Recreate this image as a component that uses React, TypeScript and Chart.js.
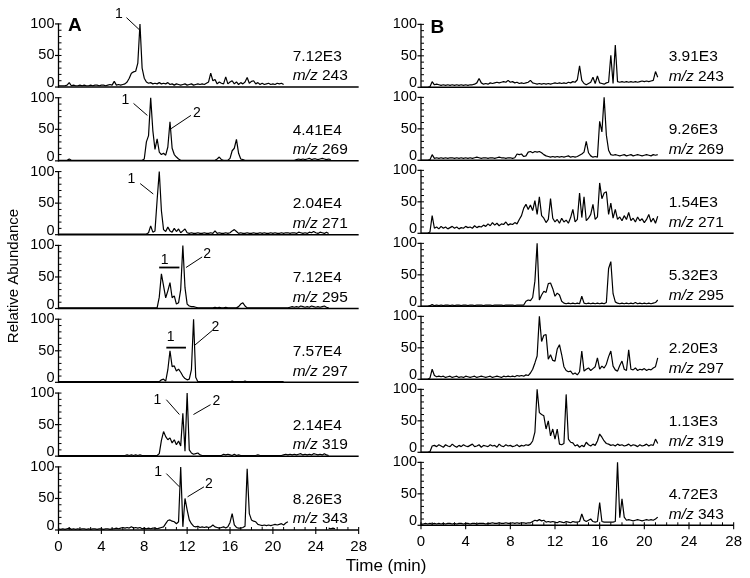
import React, { useEffect, useRef } from "react";
import { Chart, registerables } from "chart.js";

Chart.register(...registerables);

const FONT = '"Liberation Sans", Arial, Helvetica, sans-serif';
const INK = "#000";

// chromatogram sampling interval (min)
const TIME_STEP = 0.2;

const X_MIN = 0;
const X_MAX = 28;
const X_TICK_STEP = 4;
const X_MINOR_STEP = 1;
const Y_TICKS = [0, 50, 100];
const Y_MINOR_STEP = 10;

const MZ = ["243", "269", "271", "295", "297", "319", "343"];
const INTENSITY_A = ["7.12E3", "4.41E4", "2.04E4", "7.12E4", "7.57E4", "2.14E4", "8.26E3"];
const INTENSITY_B = ["3.91E3", "9.26E3", "1.54E3", "5.32E3", "2.20E3", "1.13E3", "4.72E3"];

// ---------- Panel A (relative abundance, one value every 0.2 min) ----------
const A243 = [
  2, 2, 2, 2, 3, 7, 2, 3, 2, 2,
  3, 2, 3, 2, 2, 3, 2, 3, 3, 2,
  3, 3, 2, 3, 4, 3, 9, 3, 4, 3,
  4, 5, 8, 14, 22, 24, 25, 38, 100, 30,
  14, 8, 6, 7, 5, 6, 5, 7, 5, 6,
  5, 7, 4, 5, 3, 5, 4, 3, 4, 5,
  3, 4, 5, 3, 4, 5, 4, 5, 4, 6,
  8, 22, 10, 12, 5, 8, 6, 5, 16, 5,
  8, 10, 5, 8, 4, 7, 5, 8, 15, 6,
  9, 10, 5, 7, 4, 6, 4, 5, 6, 4,
  5, 4, 6, 5, 6, 4,
];
const A269 = [
  1, 1, 1, 1, 1, 3, 1, 1, 1, 1,
  1, 1, 1, 1, 1, 1, 1, 1, 1, 1,
  1, 1, 1, 1, 1, 1, 1, 1, 1, 1,
  1, 1, 1, 1, 1, 1, 1, 1, 1, 1,
  3, 30, 40, 100, 48, 18, 35, 14, 10, 12,
  9, 22, 62, 20, 10, 6, 3, 1, 1, 1,
  1, 1, 1, 1, 1, 1, 1, 1, 1, 1,
  1, 1, 1, 1, 3, 6, 2, 1, 1, 1,
  4, 16, 20, 34, 12, 3, 2, 1, 1, 1,
  1, 1, 1, 1, 1, 1, 1, 1, 1, 1,
  1, 1, 1, 1, 1, 1, 1, 1, 1, 1,
  1, 2, 3, 2, 3, 2, 3, 4, 2, 3,
  3, 2, 3, 4, 3, 2, 3, 2,
];
const A271 = [
  1, 1, 1, 1, 1, 1, 1, 1, 1, 1,
  1, 1, 1, 1, 1, 1, 1, 1, 1, 1,
  1, 1, 1, 1, 1, 1, 1, 1, 1, 1,
  1, 1, 1, 1, 1, 1, 1, 1, 1, 1,
  1, 1, 3, 14, 4, 6, 55, 100, 38, 8,
  5, 12, 6, 4, 10, 5, 9, 3, 6, 9,
  3, 2, 3, 2, 2, 3, 2, 2, 3, 2,
  2, 3, 2, 6, 2, 3, 2, 2, 3, 2,
  3, 6, 8, 5, 2, 3, 2, 2, 3, 2,
  2, 3, 2, 2, 3, 2, 3, 2, 2, 3,
  2, 3, 2, 2, 3, 2, 3, 3, 2, 3,
  3, 2, 4, 3, 2, 3, 2, 4, 3, 5,
  3, 2, 4, 3, 2, 4, 2,
];
const A295 = [
  1, 1, 1, 1, 1, 1, 1, 1, 1, 1,
  1, 1, 1, 1, 1, 1, 1, 1, 1, 1,
  1, 1, 1, 1, 1, 1, 1, 1, 1, 1,
  1, 1, 1, 1, 1, 1, 1, 1, 1, 1,
  1, 1, 1, 1, 1, 1, 1, 18, 55, 36,
  17, 28, 41, 17, 20, 7, 9, 30, 100, 33,
  7, 4, 3, 3, 2, 1, 1, 1, 1, 1,
  1, 1, 1, 2, 1, 2, 1, 1, 2, 1,
  1, 1, 1, 1, 3, 7, 9, 4, 1, 1,
  1, 1, 1, 1, 1, 1, 1, 1, 1, 1,
  1, 1, 1, 1, 1, 1, 1, 1, 2, 3,
  2, 3, 2, 4, 3, 2, 3, 2, 4, 3,
  2, 3, 2, 3, 4, 2, 1,
];
const A297 = [
  1, 1, 1, 1, 1, 1, 1, 1, 1, 1,
  1, 1, 1, 1, 1, 1, 1, 1, 1, 1,
  1, 1, 1, 1, 1, 1, 1, 1, 1, 1,
  1, 1, 1, 1, 1, 1, 1, 1, 1, 1,
  1, 1, 1, 1, 1, 1, 1, 1, 4, 5,
  2, 20, 50, 25, 26, 18, 21, 16, 10, 6,
  4, 5, 20, 100, 8, 1, 1, 1, 1, 1,
  1, 1, 1, 1, 1, 1, 1, 1, 1, 1,
  1, 2, 1, 1, 1, 1, 1, 2, 1, 1,
  1, 1, 1, 1, 1, 1, 1, 1, 1, 1,
  1, 1, 1, 1, 1, 1,
];
const A319 = [
  1, 1, 1, 1, 1, 1, 1, 1, 1, 1,
  1, 1, 1, 1, 1, 1, 1, 1, 1, 1,
  1, 1, 1, 1, 1, 1, 1, 1, 1, 1,
  1, 1, 2, 1, 2, 1, 2, 1, 2, 1,
  1, 1, 1, 1, 1, 1, 1, 4, 25, 39,
  31, 26, 29, 21, 26, 18, 24, 16, 68, 8,
  100, 10, 5, 3, 4, 5, 2, 1, 1, 1,
  1, 1, 1, 1, 1, 1, 1, 3, 2, 3,
  2, 1, 3, 1, 2, 1, 1, 1, 1, 1,
  1, 1, 1, 2, 1, 1, 1, 1, 1, 1,
  1, 1, 1, 1, 1, 2, 3, 2, 3, 2,
  3, 2, 3, 4, 2, 3, 2, 3, 2, 4,
  3, 2, 3, 2, 4, 2, 1,
];
const A343 = [
  2, 1, 2, 1, 2, 3, 1, 2, 1, 2,
  1, 2, 2, 1, 2, 1, 2, 2, 1, 2,
  2, 1, 2, 2, 1, 2, 2, 3, 2, 3,
  4, 3, 4, 3, 5, 3, 4, 3, 4, 2,
  3, 2, 3, 2, 3, 3, 2, 3, 4, 5,
  10, 15, 16, 14, 13, 10, 13, 100, 5, 50,
  32, 16, 10, 6, 5, 6, 4, 5, 4, 5,
  4, 5, 8, 5, 4, 3, 4, 5, 3, 5,
  12, 26, 8, 4, 3, 3, 4, 6, 97, 26,
  16, 14, 13, 9, 8, 7, 8, 7, 8, 7,
  8, 9, 8, 9, 10, 8, 11, 13, null, null,
  null, null, null, null, null, null, null, null, null, null,
  null, null, null, null, null, null, 3, 2, 3, 2,
];

// ---------- Panel B ----------
const B243 = [
  0, 0, 0, 0, 1, 9, 4, 5, 4, 3,
  4, 3, 4, 3, 4, 3, 4, 3, 4, 3,
  4, 3, 4, 4, 5, 7, 14, 7, 5, 6,
  5, 7, 6, 7, 8, 7, 8, 9, 8, 11,
  8, 9, 7, 8, 6, 7, 6, 7, 8, 11,
  7, 6, 5, 6, 5, 6, 5, 6, 5, 6,
  7, 6, 7, 6, 7, 6, 8, 7, 9, 8,
  12, 34, 11, 6, 4, 6, 8, 16, 6, 18,
  7, 6, 5, 7, 8, 51, 6, 67, 9, 8,
  9, 8, 9, 8, 9, 8, 9, 8, 9, 10,
  9, 10, 9, 10, 11, 25, 16,
];
const B269 = [
  0, 0, 0, 0, 1, 9, 3, 4, 3, 4,
  3, 4, 3, 4, 4, 3, 4, 3, 4, 3,
  4, 3, 4, 3, 4, 5, 4, 3, 4, 4,
  3, 4, 4, 3, 4, 5, 4, 4, 3, 4,
  4, 3, 4, 10, 9, 10, 6, 7, 13, 14,
  12, 14, 13, 14, 12, 9, 7, 6, 5, 6,
  5, 6, 5, 6, 5, 6, 7, 5, 6, 5,
  6, 8, 10, 13, 30, 12, 7, 5, 6, 5,
  62, 45, 100, 40, 16, 9, 8, 9, 8, 7,
  8, 9, 7, 8, 9, 7, 8, 9, 8, 7,
  8, 9, 8, 7, 9, 8, 9,
];
const B271 = [
  0, 0, 0, 0, 2, 28, 8, 10, 7, 11,
  8, 10, 7, 9, 11, 8, 10, 7, 9, 8,
  11, 9, 10, 8, 12, 9, 11, 10, 13, 11,
  15, 12, 17, 13, 16, 12, 15, 14, 18, 13,
  15, 14, 17, 15, 22, 28, 40, 46, 38, 45,
  36, 52, 30, 58, 28, 24, 17, 22, 55, 24,
  18, 22, 16, 24, 18, 21, 16, 25, 38, 18,
  22, 64, 25, 58, 20, 24, 30, 46, 22, 26,
  80, 55, 64, 66, 30, 48, 24, 38, 22, 26,
  20, 28, 22, 33, 20, 24, 18, 26, 20, 23,
  17, 22, 30, 18, 24, 16, 27,
];
const B295 = [
  0, 0, 0, 0, 1, 3, 1, 2, 1, 2,
  1, 2, 2, 1, 2, 1, 2, 2, 1, 2,
  2, 1, 2, 2, 1, 2, 2, 2, 1, 2,
  2, 2, 1, 2, 2, 2, 2, 1, 2, 2,
  2, 2, 1, 2, 2, 2, 2, 8, 10, 9,
  14, 40, 100, 10, 18, 24, 22, 36, 37, 28,
  16, 21, 18, 8, 5, 4, 5, 4, 5, 4,
  5, 4, 16, 5, 4, 5, 4, 5, 4, 5,
  4, 5, 4, 6, 60, 71, 20, 7, 5, 4,
  5, 4, 5, 4, 5, 4, 6, 4, 5, 4,
  5, 4, 5, 4, 5, 6, 10,
];
const B297 = [
  0, 0, 0, 0, 2, 16, 6, 4, 5, 4,
  5, 3, 4, 5, 3, 4, 5, 3, 4, 3,
  5, 4, 3, 4, 5, 3, 4, 5, 4, 3,
  4, 5, 3, 4, 5, 4, 3, 5, 4, 5,
  4, 5, 4, 6, 5, 6, 5, 7, 6, 10,
  16, 26, 37, 100, 60, 70, 71, 32, 39, 30,
  29, 48, 55, 39, 20, 14, 12, 13, 8, 10,
  7, 12, 45, 13, 16, 18, 14, 17, 20, 34,
  16, 21, 18, 24, 36, 45, 21, 15, 13, 22,
  29, 16, 14, 47, 16, 15, 18, 14, 16, 15,
  17, 14, 16, 15, 18, 20, 34,
];
const B319 = [
  0, 0, 0, 0, 1, 10, 11, 9, 12, 10,
  8, 12, 10, 9, 13, 10, 8, 11, 9, 12,
  10, 9, 11, 13, 9, 10, 12, 8, 11, 10,
  9, 12, 10, 11, 8, 13, 10, 9, 12, 10,
  11, 9, 10, 12, 9, 11, 10, 12, 11, 13,
  18, 32, 100, 63, 60, 58, 37, 50, 26, 37,
  21, 37, 13, 12, 14, 92, 21, 16, 15, 10,
  12, 8, 11, 9, 16, 12, 10, 13, 11, 18,
  29, 24, 18, 14, 13, 11, 12, 10, 13, 11,
  12, 10, 11, 13, 10, 12, 11, 9, 12, 10,
  11, 13, 10, 12, 11, 21, 14,
];
const B343 = [
  2, 2, 3, 2, 3, 2, 3, 2, 3, 2,
  3, 2, 3, 3, 2, 3, 2, 3, 3, 2,
  3, 3, 2, 3, 3, 2, 3, 3, 3, 2,
  3, 3, 4, 3, 3, 4, 3, 3, 4, 3,
  3, 4, 3, 4, 3, 4, 4, 3, 4, 4,
  6, 8, 7, 9, 7, 8, 5, 6, 5, 6,
  5, 4, 6, 5, 4, 6, 5, 4, 6, 5,
  5, 6, 18, 8, 6, 8, 10, 6, 5, 6,
  36, 6, 5, 5, 5, 5, 5, 6, 100, 12,
  42, 13, 8, 9, 8, 7, 8, 9, 8, 7,
  8, 9, 8, 9, 8, 10, 13,
];

// peak labels (time, abundance in panel units)
type Ann = { text: string; x: number; y: number; line?: number[]; bar?: number[] };
const PEAKS_A: Ann[][] = [
  [{ text: "1", x: 5.63, y: 115, line: [6.34, 110, 7.53, 91] }],
  [
    { text: "1", x: 6.25, y: 97, line: [7.0, 91, 8.29, 72] },
    { text: "2", x: 12.9, y: 75, line: [12.35, 72, 10.5, 51] },
  ],
  [{ text: "1", x: 6.79, y: 88, line: [7.62, 81, 8.84, 64.5] }],
  [
    { text: "1", x: 9.9, y: 77, bar: [9.39, 11.28, 65] },
    { text: "2", x: 13.87, y: 86, line: [13.4, 81.7, 11.89, 64.9] },
  ],
  [
    { text: "1", x: 10.46, y: 71, bar: [10.06, 11.89, 55] },
    { text: "2", x: 14.64, y: 87, line: [14.33, 82, 12.65, 58] },
  ],
  [
    { text: "1", x: 9.23, y: 89.5, line: [10.06, 89.5, 11.28, 66] },
    { text: "2", x: 14.73, y: 88, line: [14.18, 81.6, 12.59, 66] },
  ],
  [
    { text: "1", x: 9.3, y: 92, line: [10.06, 89.4, 11.28, 68.4] },
    { text: "2", x: 14.03, y: 72.7, line: [13.57, 68.4, 12.04, 52.6] },
  ],
];

type ColumnCfg = {
  letter: string;
  traces: (number | null)[][];
  intensities: string[];
  peaks: Ann[][];
  yMax: number;
  padTop: number;
  padRight: number;
  axisWidth: number;
  axisHeight: number;
  labelInset: number;
  yTitle?: string;
};

const COLUMN_A: ColumnCfg = {
  letter: "A",
  traces: [A243, A269, A271, A295, A297, A319, A343],
  intensities: INTENSITY_A,
  peaks: PEAKS_A,
  yMax: 117,
  padTop: 13.2,
  padRight: 10,
  axisWidth: 58.5,
  axisHeight: 48,
  labelInset: 66,
  yTitle: "Relative Abundance",
};

const COLUMN_B: ColumnCfg = {
  letter: "B",
  traces: [B243, B269, B271, B295, B297, B319, B343],
  intensities: INTENSITY_B,
  peaks: [],
  yMax: 116,
  padTop: 14.3,
  padRight: 15,
  axisWidth: 46,
  axisHeight: 52.7,
  labelInset: 65,
};

function decorPlugin(cfg: ColumnCfg) {
  return {
    id: "decor" + cfg.letter,
    afterDraw(chart: any) {
      const ctx = chart.ctx as CanvasRenderingContext2D;
      const area = chart.chartArea;
      const xs = chart.scales.x;
      const n = cfg.traces.length;
      const seg = (x1: number, y1: number, x2: number, y2: number, w: number) => {
        ctx.lineWidth = w;
        ctx.beginPath();
        ctx.moveTo(x1, y1);
        ctx.lineTo(x2, y2);
        ctx.stroke();
      };
      ctx.save();
      ctx.strokeStyle = INK;
      ctx.fillStyle = INK;
      let bottomY = -Infinity;
      for (let i = 0; i < n; i++) {
        const ys = chart.scales["y" + i];
        const y0 = ys.getPixelForValue(0);
        bottomY = Math.max(bottomY, y0);
        const yTop = ys.getPixelForValue(Y_TICKS[Y_TICKS.length - 1]);
        seg(area.left, y0, area.right, y0, 1.5);
        seg(area.left, y0 + 0.7, area.left, yTop - 0.6, 1.3);
        for (let v = 0; v <= Y_TICKS[Y_TICKS.length - 1]; v += Y_MINOR_STEP) {
          const y = ys.getPixelForValue(v);
          if (Y_TICKS.includes(v)) seg(area.left - 3.5, y, area.left, y, 1.2);
          if (v > 0) seg(area.left, y, area.left + 3, y, 1);
        }
        ctx.font = `14.5px ${FONT}`;
        ctx.textAlign = "right";
        ctx.textBaseline = "middle";
        for (const v of Y_TICKS) {
          ctx.fillText(String(v), area.left - 4, ys.getPixelForValue(v) - (v === 0 ? 4 : 0));
        }
        // intensity and m/z labels
        const tx = area.right - cfg.labelInset;
        ctx.textAlign = "left";
        ctx.font = `15.5px ${FONT}`;
        ctx.fillText(cfg.intensities[i], tx, y0 - 30.5);
        ctx.font = `italic 15.5px ${FONT}`;
        ctx.fillText("m/z", tx, y0 - 11);
        const w = ctx.measureText("m/z").width;
        ctx.font = `15.5px ${FONT}`;
        ctx.fillText(" " + MZ[i], tx + w, y0 - 11);
        // peak annotations
        const anns = cfg.peaks[i] || [];
        ctx.font = `14px ${FONT}`;
        ctx.textAlign = "center";
        for (const a of anns) {
          ctx.fillText(a.text, xs.getPixelForValue(a.x), ys.getPixelForValue(a.y));
          if (a.line) {
            seg(
              xs.getPixelForValue(a.line[0]), ys.getPixelForValue(a.line[1]),
              xs.getPixelForValue(a.line[2]), ys.getPixelForValue(a.line[3]), 1
            );
          }
          if (a.bar) {
            seg(
              xs.getPixelForValue(a.bar[0]), ys.getPixelForValue(a.bar[2]),
              xs.getPixelForValue(a.bar[1]), ys.getPixelForValue(a.bar[2]), 1.8
            );
          }
        }
      }
      // time axis ticks on the bottom panel
      for (let t = X_MIN; t <= X_MAX; t += X_MINOR_STEP) {
        const x = xs.getPixelForValue(t);
        if (t % X_TICK_STEP === 0) seg(x, bottomY - 3, x, bottomY + 4, 1.1);
        else seg(x, bottomY - 3, x, bottomY, 1);
      }
      // panel letter
      ctx.font = `bold 19px ${FONT}`;
      ctx.textAlign = "left";
      ctx.textBaseline = "middle";
      ctx.fillText(cfg.letter, area.left + 9.5, area.top + 13);
      // y title
      if (cfg.yTitle) {
        ctx.save();
        ctx.translate(14, 276);
        ctx.rotate(-Math.PI / 2);
        ctx.font = `15px ${FONT}`;
        ctx.textAlign = "center";
        ctx.textBaseline = "middle";
        ctx.fillText(cfg.yTitle, 0, 0);
        ctx.restore();
      }
      ctx.restore();
    },
  };
}

function buildChart(canvas: HTMLCanvasElement, cfg: ColumnCfg) {
  const n = cfg.traces.length;
  const scales: any = {
    x: {
      type: "linear",
      position: "bottom",
      min: X_MIN,
      max: X_MAX,
      ticks: {
        stepSize: X_TICK_STEP,
        color: INK,
        font: { family: FONT, size: 15 },
        padding: 8,
        maxRotation: 0,
        autoSkip: false,
      },
      grid: { display: false, drawTicks: false },
      border: { display: false },
      afterFit: (s: any) => {
        s.height = cfg.axisHeight;
      },
    },
  };
  // left boxes are stacked last-defined first, so insert bottom panel first
  for (let i = n - 1; i >= 0; i--) {
    scales["y" + i] = {
      type: "linear",
      position: "left",
      stack: "panels",
      stackWeight: 1,
      min: 0,
      max: cfg.yMax,
      ticks: { display: false },
      grid: { display: false, drawTicks: false },
      border: { display: false },
      afterFit: (s: any) => {
        s.width = cfg.axisWidth;
      },
    };
  }
  return new Chart(canvas, {
    type: "line",
    data: {
      datasets: cfg.traces.map((values, i) => ({
        data: values.map((v, k) => ({ x: Math.round(k * TIME_STEP * 10) / 10, y: v })),
        xAxisID: "x",
        yAxisID: "y" + i,
        borderColor: INK,
        borderWidth: 1.2,
        borderJoinStyle: "bevel",
        pointRadius: 0,
        tension: 0,
        fill: false,
        spanGaps: false,
      })),
    } as any,
    options: {
      animation: false,
      responsive: false,
      maintainAspectRatio: false,
      events: [],
      layout: { padding: { top: cfg.padTop, right: cfg.padRight, left: 0, bottom: 0 } },
      plugins: { legend: { display: false }, tooltip: { enabled: false } },
      scales,
    } as any,
    plugins: [decorPlugin(cfg)],
  });
}

export default function App() {
  const leftRef = useRef<HTMLCanvasElement>(null);
  const rightRef = useRef<HTMLCanvasElement>(null);
  useEffect(() => {
    const a = buildChart(leftRef.current as HTMLCanvasElement, COLUMN_A);
    const b = buildChart(rightRef.current as HTMLCanvasElement, COLUMN_B);
    return () => {
      a.destroy();
      b.destroy();
    };
  }, []);
  return (
    <div
      style={{
        position: "absolute",
        left: 0,
        top: 0,
        width: 750,
        height: 578,
        background: "#fff",
        overflow: "hidden",
      }}
    >
      <canvas ref={leftRef} width={375} height={578} style={{ position: "absolute", left: 0, top: 0 }} />
      <canvas ref={rightRef} width={375} height={578} style={{ position: "absolute", left: 375, top: 0 }} />
      <div
        style={{
          position: "absolute",
          left: 326,
          top: 556,
          width: 120,
          textAlign: "center",
          fontFamily: FONT,
          fontSize: 17,
          lineHeight: "20px",
          color: INK,
        }}
      >
        Time (min)
      </div>
    </div>
  );
}
